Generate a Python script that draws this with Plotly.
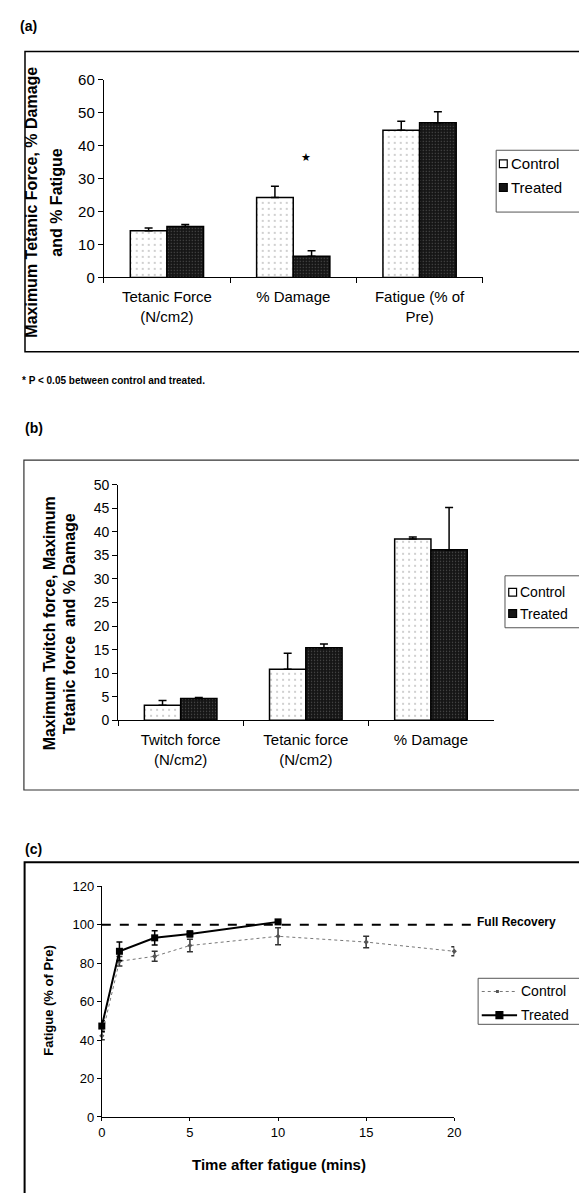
import plotly.graph_objects as go

# ---------------- data ----------------
series_names = ["Control", "Treated"]

# panel (a)
cats_a = ["Tetanic Force<br>(N/cm2)", "% Damage", "Fatigue (% of<br>Pre)"]
control_a = [14.2, 24.3, 44.7]
control_a_err = [0.8, 3.4, 2.7]
treated_a = [15.5, 6.4, 47.0]
treated_a_err = [0.6, 1.7, 3.3]
star_a_value = 36.4

# panel (b)
cats_b = ["Twitch force<br>(N/cm2)", "Tetanic force<br>(N/cm2)", "% Damage"]
control_b = [3.2, 10.8, 38.5]
control_b_err = [1.0, 3.4, 0.4]
treated_b = [4.6, 15.4, 36.2]
treated_b_err = [0.2, 0.8, 9.0]

# panel (c)
time_control = [0, 1, 3, 5, 10, 15, 20]
control_c = [42.2, 81.0, 83.6, 89.2, 94.0, 91.0, 86.2]
control_c_err = [2.0, 2.5, 2.6, 3.2, 4.4, 3.0, 2.3]
time_treated = [0, 1, 3, 5, 10]
treated_c = [47.3, 86.2, 93.2, 95.2, 101.5]
treated_c_err = [2.7, 4.8, 3.7, 1.5, 1.0]
full_recovery = 100

yticks_a = [0, 10, 20, 30, 40, 50, 60]
yticks_b = [0, 5, 10, 15, 20, 25, 30, 35, 40, 45, 50]
yticks_c = [0, 20, 40, 60, 80, 100, 120]
xticks_c = [0, 5, 10, 15, 20]

# ---------------- layout helpers ----------------
W, H = 579, 1193
FONT = "Liberation Sans, Arial, sans-serif"


def px(x):
    return x / W


def py(y):
    return 1 - y / H


ctrl_marker = dict(color="white", line=dict(color="black", width=1.5),
                   pattern=dict(shape=".", fgcolor="#8a8a8a", bgcolor="white",
                                size=6, solidity=0.1))
trt_marker = dict(color="#151515", line=dict(color="black", width=1.5),
                  pattern=dict(shape=".", fgcolor="#8a8a8a", bgcolor="#151515",
                               size=3, solidity=0.15))

fig = go.Figure()


def err(vals):
    return dict(type="data", array=vals, arrayminus=[0] * len(vals),
                symmetric=False, color="black", thickness=1.5, width=4)


# panel (a)
fig.add_trace(go.Bar(x=cats_a, y=control_a, name=series_names[0], marker=ctrl_marker,
                     error_y=err(control_a_err), xaxis="x", yaxis="y", showlegend=False))
fig.add_trace(go.Bar(x=cats_a, y=treated_a, name=series_names[1], marker=trt_marker,
                     error_y=err(treated_a_err), xaxis="x", yaxis="y", showlegend=False))
# panel (b)
fig.add_trace(go.Bar(x=cats_b, y=control_b, name=series_names[0], marker=ctrl_marker,
                     error_y=err(control_b_err), xaxis="x2", yaxis="y2", showlegend=False))
fig.add_trace(go.Bar(x=cats_b, y=treated_b, name=series_names[1], marker=trt_marker,
                     error_y=err(treated_b_err), xaxis="x2", yaxis="y2", showlegend=False))
# panel (c)
fig.add_trace(go.Scatter(x=time_control, y=control_c, name=series_names[0], mode="lines+markers",
                         line=dict(color="#777777", width=1, dash="dot"),
                         marker=dict(symbol="diamond", size=4, color="#555555"),
                         error_y=dict(type="data", array=control_c_err, color="#333333",
                                      thickness=1.5, width=3),
                         cliponaxis=False, xaxis="x3", yaxis="y3", showlegend=False))
fig.add_trace(go.Scatter(x=time_treated, y=treated_c, name=series_names[1], mode="lines+markers",
                         line=dict(color="black", width=2),
                         marker=dict(symbol="square", size=7, color="black"),
                         error_y=dict(type="data", array=treated_c_err, color="black",
                                      thickness=1.5, width=3),
                         cliponaxis=False, xaxis="x3", yaxis="y3", showlegend=False))

axis_common = dict(showline=True, linecolor="black", linewidth=1, showgrid=False,
                   zeroline=False, ticks="outside", tickcolor="black", ticklen=5,
                   tickfont=dict(family=FONT, color="black"))

fig.update_layout(
    width=W, height=H,
    margin=dict(l=0, r=0, t=0, b=0),
    paper_bgcolor="white", plot_bgcolor="white",
    font=dict(family=FONT, color="black"),
    barmode="group", bargap=0.42, bargroupgap=0,
    showlegend=False,
    xaxis=dict(axis_common, domain=[px(101.7), px(488)], anchor="y", type="category",
               range=[-0.5, 2.5], tickson="boundaries", ticklabelstandoff=6,
               tickfont=dict(family=FONT, size=15, color="black")),
    yaxis=dict(axis_common, domain=[py(272.3), py(71.9)], anchor="x", range=[0, 60],
               tickvals=yticks_a, tickfont=dict(family=FONT, size=15, color="black")),
    xaxis2=dict(axis_common, domain=[px(116.3), px(499)], anchor="y2", type="category",
                range=[-0.5, 2.5], tickson="boundaries", ticklabelstandoff=6,
                tickfont=dict(family=FONT, size=15, color="black")),
    yaxis2=dict(axis_common, domain=[py(721.5), py(482.7)], anchor="x2", range=[0, 50],
                tickvals=yticks_b, tickfont=dict(family=FONT, size=14, color="black")),
    xaxis3=dict(axis_common, domain=[px(99.7), px(459)], anchor="y3", range=[0, 20],
                tickvals=xticks_c, ticklen=3, tickfont=dict(family=FONT, size=13, color="black")),
    yaxis3=dict(axis_common, domain=[py(1124), py(890)], anchor="x3", range=[0, 120],
                tickvals=yticks_c, ticklen=4, tickfont=dict(family=FONT, size=13, color="black")),
)

shapes = []
# frames
shapes.append(dict(type="rect", xref="paper", yref="paper", x0=px(21.4), x1=px(600),
                   y0=py(43), y1=py(347.7), line=dict(color="black", width=1.5)))
shapes.append(dict(type="rect", xref="paper", yref="paper", x0=px(20.3), x1=px(600),
                   y0=py(457.7), y1=py(792.3), line=dict(color="#333333", width=1.2)))
shapes.append(dict(type="rect", xref="paper", yref="paper", x0=px(21), x1=px(600),
                   y0=py(865.7), y1=py(1210), line=dict(color="black", width=2)))
# legend boxes
shapes.append(dict(type="rect", xref="paper", yref="paper", x0=px(501.7), x1=px(600),
                   y0=py(143.3), y1=py(206), line=dict(color="#555555", width=1)))
shapes.append(dict(type="rect", xref="paper", yref="paper", x0=px(510.7), x1=px(600),
                   y0=py(575), y1=py(627.7), line=dict(color="#555555", width=1)))
shapes.append(dict(type="rect", xref="paper", yref="paper", x0=px(483.3), x1=px(600),
                   y0=py(983.3), y1=py(1030), line=dict(color="#555555", width=1)))


def sq(cx, cy, half, fill):
    return dict(type="rect", xref="paper", yref="paper", x0=px(cx - half), x1=px(cx + half),
                y0=py(cy + half), y1=py(cy - half), fillcolor=fill,
                line=dict(color="black", width=1.2))


# legend symbols (a) and (b)
shapes += [sq(509, 157, 4, "white"), sq(509, 181, 4, "#151515"),
           sq(518.5, 591.7, 4, "white"), sq(518.5, 613.3, 4, "#151515")]
# legend symbols (c)
shapes.append(dict(type="line", xref="paper", yref="paper", x0=px(487), x1=px(523),
                   y0=py(996.7), y1=py(996.7), line=dict(color="#777777", width=1, dash="dot")))
shapes.append(dict(type="line", xref="paper", yref="paper", x0=px(487), x1=px(523),
                   y0=py(1020.7), y1=py(1020.7), line=dict(color="black", width=2)))
shapes.append(dict(type="rect", xref="paper", yref="paper", x0=px(501.5), x1=px(504.5),
                   y0=py(998.2), y1=py(995.2), fillcolor="#555555", line=dict(width=0)))
shapes.append(sq(505, 1020.7, 3.5, "black"))
# full recovery line (panel c)
shapes.append(dict(type="line", xref="paper", yref="y3", x0=px(99.7), x1=px(478.3),
                   y0=full_recovery, y1=full_recovery,
                   line=dict(color="black", width=2, dash="dash")))
fig.update_layout(shapes=shapes)

ann = []


def text(x, y, s, size, bold=False, xanchor="center", angle=0, color="black"):
    ann.append(dict(xref="paper", yref="paper", x=px(x), y=py(y), text=("<b>%s</b>" % s) if bold else s,
                    showarrow=False, xanchor=xanchor, yanchor="middle", textangle=angle,
                    font=dict(family=FONT, size=size, color=color)))


text(24.5, 17, "(a)", 14, bold=True)
text(31, 425, "(b)", 14, bold=True)
text(30.5, 852, "(c)", 14, bold=True)

# y titles
text(28, 196, "Maximum Tetanic Force, % Damage", 16, bold=True, angle=-90)
text(53.5, 196, "and % Fatigue", 16, bold=True, angle=-90)
text(46, 623, "Maximum Twitch force, Maximum", 16, bold=True, angle=-90)
text(66.5, 624, "Tetanic force&nbsp;&nbsp;and % Damage", 16, bold=True, angle=-90)
text(46, 1006, "Fatigue (% of Pre)", 13, bold=True, angle=-90)
text(280, 1171.7, "Time after fatigue (mins)", 15, bold=True)

# footnote
text(16.6, 377, "* P &lt; 0.05 between control and treated.", 10, bold=True, xanchor="left")

# legends text
text(515, 157, series_names[0], 15, xanchor="left")
text(515, 181, series_names[1], 15, xanchor="left")
text(524, 591.7, series_names[0], 14, xanchor="left")
text(524, 613.3, series_names[1], 14, xanchor="left")
text(525, 996.7, series_names[0], 14, xanchor="left")
text(525, 1020.7, series_names[1], 14, xanchor="left")

# full recovery label
ann.append(dict(xref="paper", yref="y3", x=px(480), y=full_recovery, text="<b>Full Recovery</b>",
                showarrow=False, xanchor="left", yanchor="middle", yshift=3,
                font=dict(family=FONT, size=12, color="black")))
# significance star
ann.append(dict(xref="x", yref="y", x=cats_a[1], y=star_a_value, text="\u2605",
                showarrow=False, xanchor="center", yanchor="middle", xshift=13,
                font=dict(family="DejaVu Sans", size=11, color="black")))

fig.update_layout(annotations=ann)

fig.write_html("out.html", config={"displayModeBar": False},
               post_script="document.body.style.margin='0';"
                           "document.body.style.overflow='hidden';")
